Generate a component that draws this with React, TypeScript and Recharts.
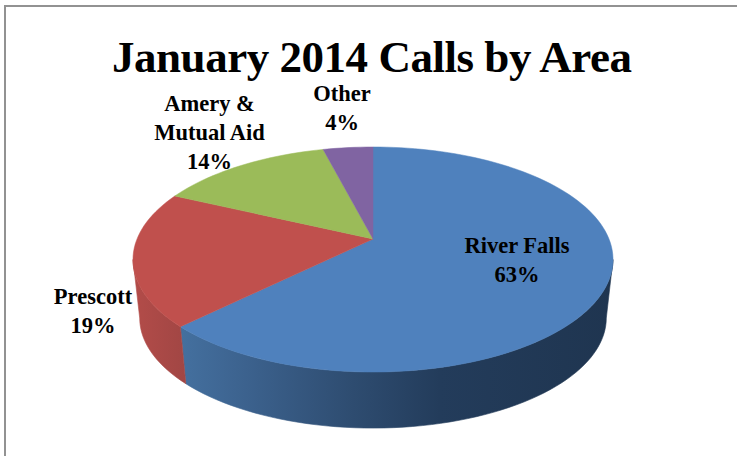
import { PieChart, Pie, Cell } from "recharts";

const areas = ["River Falls", "Prescott", "Amery & Mutual Aid", "Other"];
const shares = [62.6, 19.4, 14, 4];
const topColors = ["#4f81bd", "#c0504d", "#9bbb59", "#8064a2"];
const wallFills = ["url(#blueWall)", "url(#redWall)", "#7f9a49", "#69528a"];

// lines of each data label, and where they sit on the picture
const labelLines = [["River Falls", "63%"], ["Prescott", "19%"], ["Amery &", "Mutual Aid", "14%"], ["Other", "4%"]];
const labelAnchors = [[517, 253], [93, 304], [209.5, 111], [342, 101]];

const FONT = "'Liberation Serif', serif";

const tableData = areas.map((name, i) => ({ name, value: shares[i] }));

// perspective of the tilted disc: the centre lands above the middle of the ellipse
const PERSPECTIVE = -0.1822;
const FLATTEN = 0.461;
const DEPTH = 59;
const BOTTOM_WIDTH = 0.972;
const BOTTOM_FLATTEN = 0.4508;
// range (clockwise from top) of the rim that faces the viewer
const FRONT_START = 100.5;
const FRONT_END = 259.5;

function rimPoint(cx: number, cy: number, r: number, deg: number, bottom = false) {
  const rad = (deg * Math.PI) / 180;
  const u = Math.sin(rad);
  const v = -Math.cos(rad);
  const k = 1 + PERSPECTIVE * v;
  const w = bottom ? r * BOTTOM_WIDTH : r;
  const h = bottom ? r * BOTTOM_FLATTEN : r * FLATTEN;
  return [cx + (w * u) / k, cy + (h * v) / k + (bottom ? DEPTH : 0)];
}

function arcPoints(cx: number, cy: number, r: number, from: number, to: number, bottom = false) {
  const pts: number[][] = [];
  const n = Math.max(2, Math.ceil(Math.abs(to - from) / 2));
  for (let i = 0; i <= n; i++) {
    pts.push(rimPoint(cx, cy, r, from + ((to - from) * i) / n, bottom));
  }
  return pts;
}

const toPath = (pts: number[][]) =>
  "M" + pts.map((p) => `${p[0].toFixed(2)},${p[1].toFixed(2)}`).join("L") + "Z";

// Sector drawn as a slice of the tilted disc, with its side wall
function DiscSector(props: any) {
  const { cx, cy, outerRadius, startAngle, endAngle, fill, index } = props;
  const from = 90 - startAngle;
  const to = 90 - endAngle;
  const wallFrom = Math.max(from, FRONT_START);
  const wallTo = Math.min(to, FRONT_END);
  const hasWall = wallTo > wallFrom;
  const top = arcPoints(cx, cy, outerRadius, from, to);
  return (
    <g>
      {hasWall && (
        <path
          d={toPath([
            ...arcPoints(cx, cy, outerRadius, wallFrom, wallTo),
            ...arcPoints(cx, cy, outerRadius, wallTo, wallFrom, true),
          ])}
          fill={wallFills[index]}
          stroke={wallFills[index]}
          strokeWidth={0.6}
        />
      )}
      <path d={toPath([[cx, cy], ...top])} fill={fill} stroke={fill} strokeWidth={0.5} />
    </g>
  );
}

function DataLabel(props: any) {
  const { index } = props;
  const [x, y] = labelAnchors[index];
  return (
    <text x={x} y={y} textAnchor="middle" fontFamily={FONT} fontWeight="bold" fontSize={22.5} fill="#000">
      {labelLines[index].map((line, i) => (
        <tspan key={line} x={x} dy={i === 0 ? 0 : 28.8}>
          {line}
        </tspan>
      ))}
    </text>
  );
}

export default function App() {
  return (
    <div
      style={{
        position: "absolute",
        left: 0,
        top: 0,
        width: 737,
        height: 456,
        overflow: "hidden",
        background: "#fff",
      }}
    >
      <div
        style={{
          position: "absolute",
          left: 4,
          top: 5,
          width: 760,
          height: 480,
          borderLeft: "2px solid #929292",
          borderTop: "2px solid #929292",
        }}
      />
      <div style={{ position: "absolute", left: 0, top: 0 }}>
        <PieChart width={737} height={456} margin={{ top: 0, right: 0, bottom: 0, left: 0 }}>
          <defs>
            <linearGradient id="blueWall" x1="0" y1="0" x2="1" y2="0">
              <stop offset="0" stopColor="#44709f" />
              <stop offset="0.15" stopColor="#3c628e" />
              <stop offset="0.4" stopColor="#2e4c70" />
              <stop offset="0.6" stopColor="#233c5b" />
              <stop offset="1" stopColor="#1f3550" />
            </linearGradient>
            <linearGradient id="redWall" x1="0" y1="0" x2="1" y2="0">
              <stop offset="0" stopColor="#b34c49" />
              <stop offset="1" stopColor="#a14644" />
            </linearGradient>
          </defs>
          <text
            x={372}
            y={72}
            textAnchor="middle"
            fontFamily={FONT}
            fontWeight="bold"
            fontSize={45}
            fill="#000"
            textLength={520}
          >
            January 2014 Calls by Area
          </text>
          <Pie
            data={tableData}
            dataKey="value"
            nameKey="name"
            cx={373}
            cy={239}
            outerRadius={236}
            startAngle={90}
            endAngle={-270}
            stroke="none"
            shape={DiscSector}
            label={DataLabel}
            labelLine={false}
            isAnimationActive={false}
          >
            {tableData.map((d, i) => (
              <Cell key={d.name} fill={topColors[i]} />
            ))}
          </Pie>
        </PieChart>
      </div>
    </div>
  );
}
